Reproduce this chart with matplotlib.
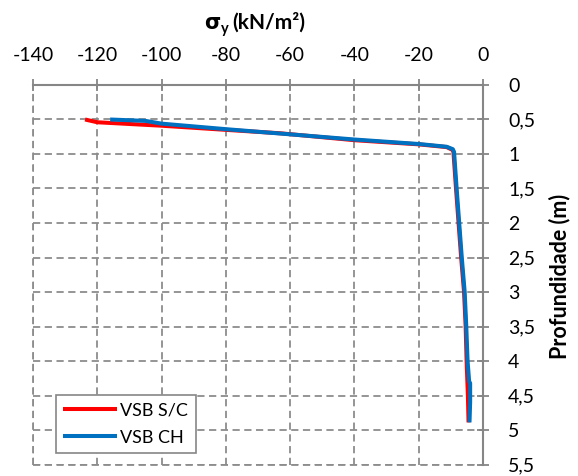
import matplotlib
matplotlib.use("Agg")
import matplotlib.pyplot as plt

plt.rcParams['font.family'] = ['Lato', 'DejaVu Sans']

# Vertical stress profiles: stress (kN/m²) against depth (m)
sc_stress = [-123.8, -120.0, -100.0, -80.0, -63.0, -40.0, -20.0, -11.3, -9.5,
             -9.2, -8.4, -7.6, -6.8, -5.9, -5.4, -5.1, -4.7, -4.5]
sc_depth = [0.50, 0.54, 0.59, 0.65, 0.70, 0.80, 0.86, 0.90, 0.94,
            0.97, 1.50, 2.00, 2.50, 3.00, 3.50, 4.00, 4.50, 4.89]

ch_stress = [-116.0, -105.0, -100.0, -80.0, -60.0, -40.0, -20.0, -11.3, -9.4,
             -9.0, -8.2, -7.4, -6.6, -5.7, -5.2, -4.8, -4.3, -4.0, -4.0, -4.2]
ch_depth = [0.50, 0.52, 0.56, 0.64, 0.715, 0.79, 0.855, 0.895, 0.93,
            0.97, 1.50, 2.00, 2.50, 3.00, 3.50, 4.00, 4.30, 4.32, 4.60, 4.89]

x_ticks = [-140, -120, -100, -80, -60, -40, -20, 0]
x_labels = ['-140', '-120', '-100', '-80', '-60', '-40', '-20', '0']
y_ticks = [0, 0.5, 1, 1.5, 2, 2.5, 3, 3.5, 4, 4.5, 5, 5.5]
y_labels = ['0', '0,5', '1', '1,5', '2', '2,5', '3', '3,5', '4', '4,5', '5', '5,5']

W, H = 578, 476
fig = plt.figure(figsize=(W / 100, H / 100), dpi=100)
ax = fig.add_axes([33 / W, 1 - 464.5 / H, 450 / W, 379.5 / H])

axis_grey = '#868686'
grid_grey = '#8c8c8c'
dash = (0, (4, 2.5))

ax.plot(sc_stress, sc_depth, color='#ff0000', lw=2.9, solid_capstyle='butt',
        label='VSB S/C', zorder=3)
ax.plot(ch_stress, ch_depth, color='#0070c0', lw=2.9, solid_capstyle='butt',
        label='VSB CH', zorder=4)

ax.set_xlim(-140, 0)
ax.set_ylim(5.5, 0)

ax.xaxis.tick_top()
ax.yaxis.tick_right()
ax.set_xticks(x_ticks)
ax.set_xticklabels(x_labels)
ax.set_yticks(y_ticks)
ax.set_yticklabels(y_labels)

ax.tick_params(axis='both', direction='inout', length=8, width=1.3,
               color=axis_grey, labelsize=14, labelcolor='black')
ax.tick_params(axis='x', pad=11)
ax.tick_params(axis='y', pad=14)
for lab in ax.get_yticklabels():
    lab.set_horizontalalignment('left')

ax.grid(True, color=grid_grey, linestyle=dash, linewidth=1.3)
ax.set_axisbelow(True)

for side in ('left', 'bottom'):
    ax.spines[side].set_visible(False)
for side in ('top', 'right'):
    ax.spines[side].set_color(axis_grey)
    ax.spines[side].set_linewidth(1.5)

# Bottom and left frame edges drawn dashed like the grid
ax.axhline(5.5, color=grid_grey, linestyle=dash, linewidth=1.3,
           clip_on=False, zorder=1)
ax.axvline(-140, color=grid_grey, linestyle=dash, linewidth=1.3,
           clip_on=False, zorder=1)

# Title with subscript on top axis
fig.text(220 / W, 1 - 23 / H, 'σ', fontsize=15, fontweight='bold',
         ha='right', va='center', family=['DejaVu Sans'])
fig.text(220.5 / W, 1 - 29 / H, 'y', fontsize=10.5, fontweight='bold',
         ha='left', va='center')
fig.text(232 / W, 1 - 22 / H, '(kN/m²)', fontsize=15, fontweight='bold',
         ha='left', va='center')

fig.text(560 / W, 1 - 276.5 / H, 'Profundidade (m)', fontsize=15.5,
         fontweight='bold', rotation=90, ha='center', va='center')

leg = ax.legend(loc='lower left', bbox_to_anchor=(0.050, 0.031),
                borderaxespad=0, fontsize=13, handlelength=3.0,
                handletextpad=0.2, borderpad=0.4, labelspacing=0.6,
                fancybox=False, framealpha=1, edgecolor=axis_grey)
leg.get_frame().set_linewidth(1.2)

fig.savefig('out.png', dpi=100, facecolor='white')
